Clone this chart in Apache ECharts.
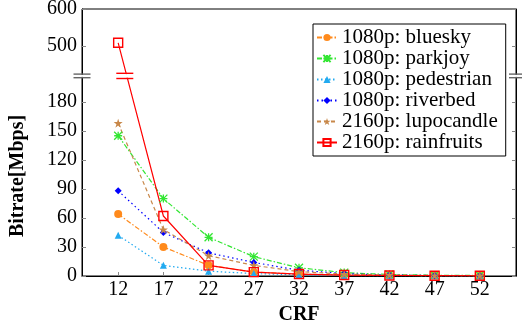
<!DOCTYPE html>
<html><head><meta charset="utf-8">
<script src="https://cdn.jsdelivr.net/npm/echarts@6/dist/echarts.min.js"></script>
<style>html,body{margin:0;padding:0;background:#fff}#c{width:522px;height:326px}</style>
</head><body><div id="c"></div>
<script>
// ---- data ----
const crf = [12, 17, 22, 27, 32, 37, 42, 47, 52];
const bluesky    = [64, 30, 11, 4, 2, 1, 0.6, 0.4, 0.3];
const parkjoy    = [145, 80, 40, 20, 8.5, 3.5, 1.5, 0.8, 0.5];
const pedestrian = [42, 11, 5, 2.5, 1.2, 0.6, 0.3, 0.2, 0.1];
const riverbed   = [88, 45, 24, 14, 6, 2.5, 1, 0.5, 0.3];
const lupocandle = [158, 48, 21, 11, 4.5, 2, 1, 0.5, 0.3];
const rainfruits = [508, 62, 11, 4, 2, 1, 0.5, 0.3, 0.2];
const yTickLabels = [0, 30, 60, 90, 120, 150, 180, 500, 600];
const names = ['1080p: bluesky', '1080p: parkjoy', '1080p: pedestrian', '1080p: riverbed', '2160p: lupocandle', '2160p: rainfruits'];

// ---- broken y axis: 0..200 at full scale, 400..600 compressed ----
const LOW_END = 200, HIGH_START = 400, HIGH_SCALE = 0.38, Y_MAX = 600, BREAK_AT = 418;
function toAxis(v) { return v <= LOW_END ? v : LOW_END + (v - HIGH_START) * HIGH_SCALE; }
function fromAxis(d) { return d <= LOW_END + 1e-9 ? d : HIGH_START + (d - LOW_END) / HIGH_SCALE; }

const FONT = 'Liberation Serif';
const chart = echarts.init(document.getElementById('c'), null, { renderer: 'canvas' });

const starPath = 'path://M5,0 L6.2,3.6 L10,3.6 L6.9,5.9 L8.1,9.5 L5,7.3 L1.9,9.5 L3.1,5.9 L0,3.6 L3.8,3.6 Z';
const asteriskPath = 'path://M0,0 L10,10 M10,0 L0,10 M0,5 L10,5 M5,0 L5,10';

function mk(name, vals, color, symbol, size, dash, itemExtra) {
  return {
    name, type: 'line',
    data: vals.map((v, i) => [crf[i], toAxis(v)]),
    symbol, symbolSize: size,
    lineStyle: { color, width: 1.2, type: dash },
    itemStyle: Object.assign({ color }, itemExtra || {}),
    emphasis: { disabled: true },
    animation: false
  };
}

const yTicksAxis = yTickLabels.map(toAxis);

const option = {
  animation: false,
  backgroundColor: '#fff',
  grid: { left: 82, right: 6, top: 9, bottom: 50, show: true, borderColor: '#000', borderWidth: 1, backgroundColor: 'transparent', outerBoundsMode: 'none', containLabel: false },
  xAxis: {
    type: 'value', min: 8, max: 56,
    name: 'CRF', nameLocation: 'middle', nameGap: 23,
    nameTextStyle: { fontFamily: FONT, fontSize: 20, fontWeight: 'bold', color: '#000' },
    axisLine: { show: true, lineStyle: { color: '#000', width: 1 } },
    axisTick: { show: true, inside: true, length: 4, customValues: crf, lineStyle: { color: '#888' } },
    axisLabel: { customValues: crf, fontFamily: FONT, fontSize: 20, color: '#000', margin: 4 },
    splitLine: { show: false }
  },
  yAxis: [{
    type: 'value', min: 0, max: toAxis(Y_MAX),
    axisLine: { show: true, lineStyle: { color: '#000', width: 1 } },
    axisTick: { show: true, inside: true, length: 4, customValues: yTicksAxis, lineStyle: { color: '#888' } },
    axisLabel: { customValues: yTicksAxis, fontFamily: FONT, fontSize: 20, color: '#000', margin: 5,
      formatter: v => String(Math.round(fromAxis(v))) },
    splitLine: { show: false }
  }, {
    type: 'value', min: 0, max: toAxis(Y_MAX), position: 'right',
    axisLine: { show: true, lineStyle: { color: '#000', width: 1 } },
    axisTick: { show: true, inside: true, length: 4, customValues: yTicksAxis, lineStyle: { color: '#888' } },
    axisLabel: { show: false },
    splitLine: { show: false }
  }],
  legend: {
    orient: 'vertical', left: 313, top: 24,
    padding: [3, 8, 3, 3], itemGap: 0, itemWidth: 20, itemHeight: 9,
    borderColor: '#000', borderWidth: 1, backgroundColor: '#fff',
    textStyle: { fontFamily: FONT, fontSize: 21, color: '#000', lineHeight: 20 },
    data: names
  },
  series: [
    mk(names[0], bluesky, '#ff8a1c', 'circle', 8, [5, 2, 1.5, 2]),
    mk(names[1], parkjoy, '#33e633', asteriskPath, 8, [5, 2, 1.5, 2], { borderColor: '#33e633', borderWidth: 1.3 }),
    mk(names[2], pedestrian, '#22aaf0', 'triangle', 7, [1.5, 2.5]),
    mk(names[3], riverbed, '#0000ff', 'diamond', 7, [1.5, 3]),
    mk(names[4], lupocandle, '#c8884a', starPath, 9, [4, 3]),
    mk(names[5], rainfruits, '#ff0000', 'rect', 9, 'solid', { color: 'rgba(0,0,0,0)', borderColor: '#ff0000', borderWidth: 1.4 })
  ],
  graphic: [{
    type: 'text', rotation: Math.PI / 2, x: 18, y: 176,
    style: { text: 'Bitrate[Mbps]', fontFamily: FONT, fontSize: 20, fontWeight: 'bold', fill: '#000', align: 'center', verticalAlign: 'middle' }
  }]
};
chart.setOption(option);

// ---- break marks, positioned through the axis scales ----
const bY = chart.convertToPixel({ yAxisIndex: 0 }, toAxis(BREAK_AT));
const xL = chart.convertToPixel({ xAxisIndex: 0 }, 8);
const xR = chart.convertToPixel({ xAxisIndex: 0 }, 56);
// where the rainfruits line crosses the break
const d0 = toAxis(rainfruits[0]), d1 = toAxis(rainfruits[1]), dB = toAxis(BREAK_AT);
const xCross = crf[0] + (crf[1] - crf[0]) * (d0 - dB) / (d0 - d1);
const xC = chart.convertToPixel({ xAxisIndex: 0 }, xCross);

function breakMark(cx, halfW, gap, color) {
  return [
    { type: 'rect', shape: { x: cx - halfW, y: bY - gap / 2 + 0.8, width: halfW * 2, height: gap - 1.6 }, style: { fill: '#fff' }, z: 100 },
    { type: 'line', shape: { x1: cx - halfW, y1: bY - gap / 2, x2: cx + halfW, y2: bY - gap / 2 }, style: { stroke: color, lineWidth: 1.4 }, z: 101 },
    { type: 'line', shape: { x1: cx - halfW, y1: bY + gap / 2, x2: cx + halfW, y2: bY + gap / 2 }, style: { stroke: color, lineWidth: 1.4 }, z: 101 }
  ];
}
chart.setOption({
  graphic: option.graphic.concat(
    breakMark(xL, 8.5, 3.6, '#666'),
    breakMark(xR, 7, 3.6, '#666'),
    breakMark(xC - 2, 8.5, 5.2, '#ff0000')
  )
});
</script>
</body></html>
